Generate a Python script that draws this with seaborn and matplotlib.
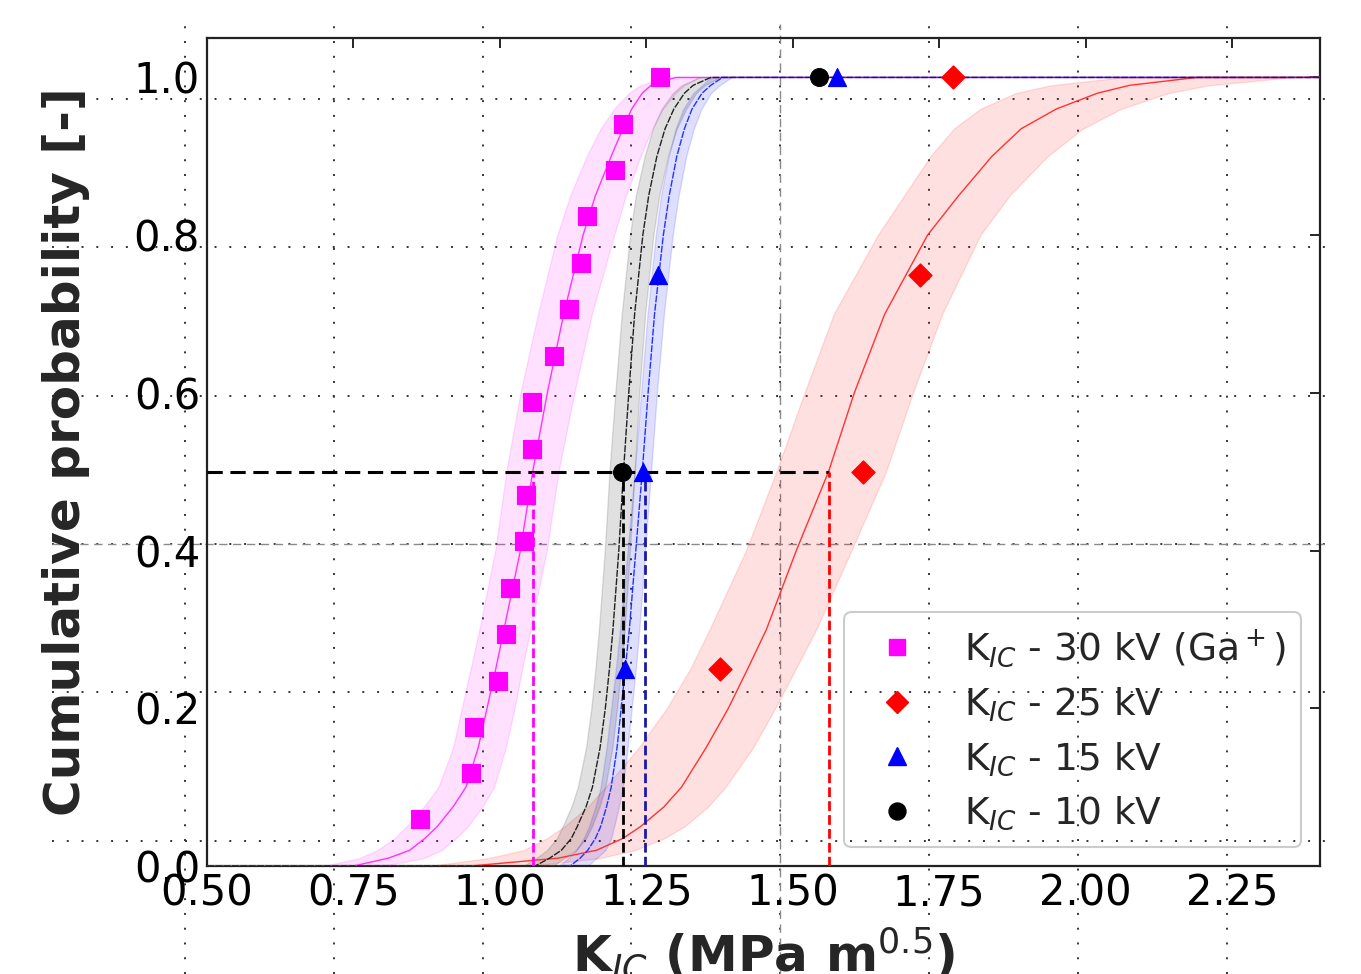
import numpy as np
import pandas as pd
import matplotlib
matplotlib.use("Agg")
import matplotlib.pyplot as plt
from matplotlib.lines import Line2D
import seaborn as sns

# ---------------- data ----------------
prob_levels = [0.0, 0.01, 0.02, 0.035, 0.05, 0.075, 0.1, 0.15, 0.2, 0.25, 0.3, 0.4, 0.5,
               0.6, 0.7, 0.8, 0.85, 0.9, 0.935, 0.96, 0.98, 0.99, 1.0]

# fitted cumulative curves (x at each probability level) and confidence bands
kv30_fit = [0.75, 0.81, 0.846, 0.872, 0.893, 0.92, 0.942, 0.963, 0.978, 0.993, 1.007, 1.035, 1.056,
            1.081, 1.109, 1.142, 1.163, 1.19, 1.21, 1.225, 1.243, 1.258, 1.30]
kv30_lo = [0.70, 0.76, 0.79, 0.82, 0.84, 0.87, 0.895, 0.92, 0.935, 0.95, 0.965, 0.992, 1.011,
           1.035, 1.065, 1.098, 1.12, 1.148, 1.172, 1.195, 1.22, 1.24, 1.28]
kv30_hi = [0.80, 0.87, 0.90, 0.925, 0.945, 0.97, 0.99, 1.01, 1.025, 1.038, 1.052, 1.08, 1.10,
           1.127, 1.157, 1.195, 1.215, 1.24, 1.26, 1.278, 1.30, 1.315, 1.34]

kv25_fit = [0.95, 1.10, 1.165, 1.21, 1.24, 1.28, 1.31, 1.352, 1.39, 1.423, 1.455, 1.506, 1.561,
            1.605, 1.657, 1.73, 1.783, 1.84, 1.89, 1.95, 2.02, 2.075, 2.19]
kv25_lo = [0.88, 0.98, 1.04, 1.08, 1.11, 1.15, 1.18, 1.237, 1.285, 1.325, 1.358, 1.42, 1.472,
           1.52, 1.57, 1.645, 1.69, 1.735, 1.775, 1.82, 1.88, 1.94, 2.06]
kv25_hi = [1.05, 1.17, 1.23, 1.28, 1.315, 1.355, 1.385, 1.432, 1.47, 1.505, 1.54, 1.60, 1.659,
           1.705, 1.755, 1.82, 1.87, 1.935, 1.995, 2.06, 2.14, 2.21, 2.35]

kv15_fit = [1.12, 1.137, 1.15, 1.163, 1.172, 1.182, 1.19, 1.20, 1.207, 1.214, 1.221, 1.232, 1.243,
            1.253, 1.264, 1.279, 1.289, 1.302, 1.315, 1.328, 1.345, 1.36, 1.38]
kv15_lo = [1.10, 1.117, 1.13, 1.143, 1.152, 1.163, 1.172, 1.182, 1.19, 1.198, 1.205, 1.218, 1.23,
           1.241, 1.252, 1.266, 1.275, 1.288, 1.30, 1.313, 1.33, 1.345, 1.36]
kv15_hi = [1.15, 1.165, 1.18, 1.19, 1.195, 1.203, 1.21, 1.218, 1.225, 1.232, 1.238, 1.248, 1.258,
           1.268, 1.28, 1.295, 1.305, 1.318, 1.331, 1.344, 1.36, 1.375, 1.395]

kv10_fit = [1.06, 1.085, 1.105, 1.122, 1.132, 1.147, 1.158, 1.171, 1.18, 1.187, 1.193, 1.203, 1.211,
            1.22, 1.23, 1.244, 1.254, 1.268, 1.282, 1.297, 1.315, 1.33, 1.36]
kv10_lo = [1.04, 1.062, 1.08, 1.097, 1.107, 1.122, 1.133, 1.147, 1.156, 1.163, 1.169, 1.179, 1.187,
           1.197, 1.208, 1.222, 1.232, 1.247, 1.261, 1.276, 1.295, 1.31, 1.34]
kv10_hi = [1.09, 1.11, 1.13, 1.147, 1.157, 1.17, 1.18, 1.192, 1.20, 1.207, 1.213, 1.222, 1.23,
           1.238, 1.248, 1.262, 1.272, 1.287, 1.302, 1.318, 1.335, 1.35, 1.375]

# measured points
kv30_x = [0.864, 0.951, 0.955, 0.997, 1.011, 1.018, 1.042, 1.044, 1.054, 1.055, 1.092, 1.118,
          1.139, 1.148, 1.197, 1.211, 1.274]
kv30_y = [0.059, 0.118, 0.176, 0.235, 0.294, 0.353, 0.412, 0.471, 0.529, 0.588, 0.647, 0.706,
          0.765, 0.824, 0.882, 0.941, 1.0]
kv25_x = [1.375, 1.620, 1.717, 1.773]
kv25_y = [0.25, 0.50, 0.75, 1.0]
kv15_x = [1.214, 1.245, 1.270, 1.576]
kv15_y = [0.25, 0.50, 0.75, 1.0]
kv10_x = [1.209, 1.544]
kv10_y = [0.50, 1.0]

# medians (x at P = 0.5)
medians = [1.056, 1.561, 1.247, 1.211]
median_p = 0.5

labels = [r'K$_{IC}$ - 30 kV (Ga$^+$)', r'K$_{IC}$ - 25 kV', r'K$_{IC}$ - 15 kV', r'K$_{IC}$ - 10 kV']
x_ticks = [0.50, 0.75, 1.00, 1.25, 1.50, 1.75, 2.00, 2.25]
y_ticks = [0.0, 0.2, 0.4, 0.6, 0.8, 1.0]
x_min, x_max = 0.5, 2.4
y_min, y_max = 0.0, 1.05

# ---------------- styling ----------------
sns.set_style("white")
plt.rcParams['font.family'] = ['DejaVu Sans']
plt.rcParams['mathtext.fontset'] = 'dejavusans'

W, H = 1361, 974
fig = plt.figure(figsize=(W / 100, H / 100), dpi=100)

# background dotted grid (offset overlay, as in the reference)
bg = fig.add_axes([52 / W, 0, (1329 - 52) / W, (974 - 24) / H])
bg.set_xlim(52, 1329)
bg.set_ylim(974, 24)
bg.set_xticks([185, 334, 483, 631, 780, 929, 1078, 1227])
bg.set_yticks([99, 247, 396, 544, 692, 841])
bg.grid(True, color='#333333', linestyle=(0, (1, 6.6)), linewidth=1.4)
bg.tick_params(length=0, labelbottom=False, labelleft=False)
for s in bg.spines.values():
    s.set_visible(False)
bg.patch.set_alpha(0)
bg.axvline(780, color='#8a8a8a', linestyle=(0, (6, 4)), linewidth=1)
bg.axhline(544, color='#8a8a8a', linestyle=(0, (6, 4)), linewidth=1)

# main axes
ax = fig.add_axes([207 / W, 108 / H, 1113 / W, 828 / H])
ax.set_zorder(2)
ax.patch.set_alpha(0)

series = [
    (kv30_fit, kv30_lo, kv30_hi, kv30_x, kv30_y, '#ff00ff', '#ff33ff', 's', 150, '-', 0.12),
    (kv25_fit, kv25_lo, kv25_hi, kv25_x, kv25_y, '#ff0000', '#ff3333', 'D', 140, '-', 0.12),
    (kv15_fit, kv15_lo, kv15_hi, kv15_x, kv15_y, '#0000ff', '#2233ff', '^', 170, (0, (5, 1.0)), 0.13),
    (kv10_fit, kv10_lo, kv10_hi, kv10_x, kv10_y, '#000000', '#222222', 'o', 165, (0, (5, 1.0)), 0.12),
]

for fit, lo, hi, px, py, c, lc, mk, sz, ls, al in series:
    ax.fill_betweenx(prob_levels, lo, hi, color=c, alpha=al, linewidth=1, zorder=2)
    curve = pd.DataFrame({'x': [x_min] + fit + [x_max], 'y': [0.0] + prob_levels + [1.0]})
    sns.lineplot(data=curve, x='x', y='y', sort=False, estimator=None, color=lc,
                 linewidth=1.0, linestyle=ls, ax=ax, zorder=3, legend=False)

# median guide lines
ax.hlines(median_p, x_min, max(medians), colors='black', linestyles=(0, (5, 2.5)),
          linewidth=2.2, zorder=4)
med_colors = ['#ff00ff', '#ff0000', '#1a1aa8', '#000000']
for m, c in zip(medians, med_colors):
    ax.vlines(m, 0, median_p, colors=c, linestyles=(0, (3.5, 1.5)), linewidth=2.0, zorder=4)

# markers
handles = []
for (fit, lo, hi, px, py, c, lc, mk, sz, ls, al), lab in zip(series, labels):
    pts = pd.DataFrame({'x': px, 'y': py})
    sns.scatterplot(data=pts, x='x', y='y', marker=mk, s=sz, color=c, edgecolor=c,
                    linewidth=0.8, ax=ax, zorder=6, legend=False)
    handles.append(Line2D([], [], linestyle='none', marker=mk, markersize=np.sqrt(sz) * 0.95,
                          markerfacecolor=c, markeredgecolor=c))

ax.set_xlim(x_min, x_max)
ax.set_ylim(y_min, y_max)
ax.set_xticks(x_ticks)
ax.set_xticklabels([f'{v:.2f}' for v in x_ticks])
ax.set_yticks(y_ticks)
ax.set_yticklabels([f'{v:.1f}' for v in y_ticks])
ax.tick_params(direction='in', length=7, width=1.2, top=True, right=True,
               labelsize=30, pad=5, colors='black')

for s in ax.spines.values():
    s.set_visible(True)
    s.set_color('#222222')
    s.set_linewidth(1.6)

ax.set_ylabel('Cumulative probability [-]', fontsize=36, fontweight='bold')
ax.yaxis.set_label_coords(-0.105, 0.5)
ax.set_xlabel(r'K$_{IC}$ (MPa m$^{0.5}$)', fontsize=36, fontweight='bold')
ax.xaxis.set_label_coords(0.5, -0.072)

leg = ax.legend(handles, labels, loc='lower right', fontsize=27, frameon=True, fancybox=True,
                borderaxespad=0.5, handletextpad=0.8, labelspacing=0.45, numpoints=1)
frame = leg.get_frame()
frame.set_alpha(None)
frame.set_facecolor((1, 1, 1, 0.0))
frame.set_edgecolor((0.8, 0.8, 0.8, 1.0))
frame.set_linewidth(1.5)
leg.set_zorder(10)

fig.savefig('out.png', dpi=100)
